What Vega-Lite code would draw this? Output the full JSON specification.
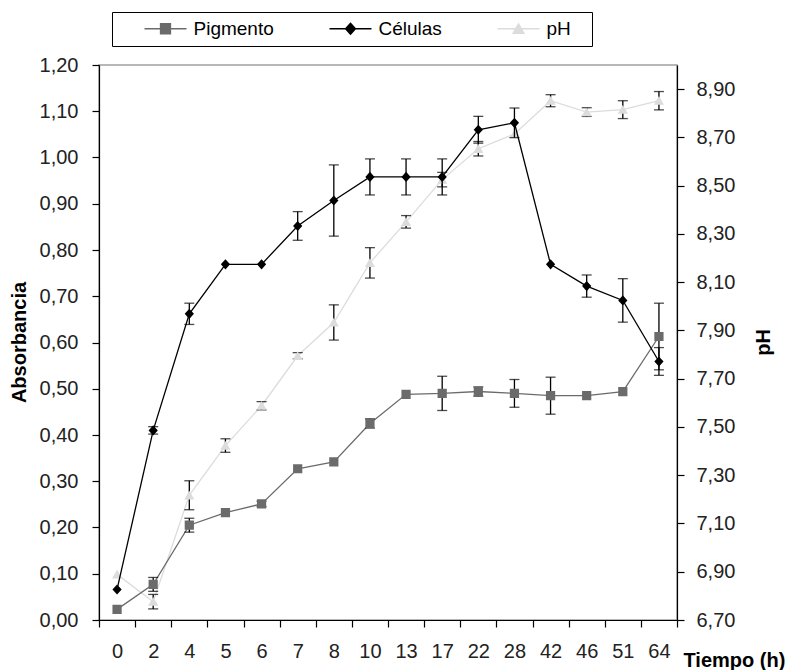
{
  "$schema": "https://vega.github.io/schema/vega-lite/v6.json",
  "width": 578,
  "height": 555,
  "autosize": "none",
  "padding": {"left": 99, "top": 65, "right": 115, "bottom": 50},
  "background": "white",
  "config": {
    "font": "Liberation Sans",
    "view": {"stroke": "#a0a0a0", "strokeWidth": 1.5},
    "axis": {
      "grid": false,
      "domainColor": "black",
      "tickColor": "black",
      "domainWidth": 1.2,
      "tickWidth": 1.2,
      "labelColor": "#222222",
      "labelFont": "Liberation Sans",
      "labelFontSize": 20,
      "titleFont": "Liberation Sans",
      "titleFontSize": 20,
      "titleFontWeight": "bold",
      "titleColor": "black"
    }
  },
  "data": {
    "values": [
      {"t": 0, "serie": "Pigmento", "v": 0.023, "e": 0},
      {"t": 2, "serie": "Pigmento", "v": 0.077, "e": 0.015},
      {"t": 4, "serie": "Pigmento", "v": 0.205, "e": 0.015},
      {"t": 5, "serie": "Pigmento", "v": 0.232, "e": 0},
      {"t": 6, "serie": "Pigmento", "v": 0.251, "e": 0.006},
      {"t": 7, "serie": "Pigmento", "v": 0.327, "e": 0},
      {"t": 8, "serie": "Pigmento", "v": 0.342, "e": 0},
      {"t": 10, "serie": "Pigmento", "v": 0.425, "e": 0.01},
      {"t": 13, "serie": "Pigmento", "v": 0.488, "e": 0},
      {"t": 17, "serie": "Pigmento", "v": 0.49, "e": 0.037},
      {"t": 22, "serie": "Pigmento", "v": 0.494, "e": 0.01},
      {"t": 28, "serie": "Pigmento", "v": 0.49, "e": 0.03},
      {"t": 42, "serie": "Pigmento", "v": 0.485, "e": 0.04},
      {"t": 46, "serie": "Pigmento", "v": 0.485, "e": 0},
      {"t": 51, "serie": "Pigmento", "v": 0.494, "e": 0},
      {"t": 64, "serie": "Pigmento", "v": 0.613, "e": 0.072},
      {"t": 0, "serie": "Células", "v": 0.066, "e": 0},
      {"t": 2, "serie": "Células", "v": 0.41, "e": 0.008},
      {"t": 4, "serie": "Células", "v": 0.662, "e": 0.023},
      {"t": 5, "serie": "Células", "v": 0.769, "e": 0},
      {"t": 6, "serie": "Células", "v": 0.769, "e": 0},
      {"t": 7, "serie": "Células", "v": 0.852, "e": 0.031},
      {"t": 8, "serie": "Células", "v": 0.907, "e": 0.077},
      {"t": 10, "serie": "Células", "v": 0.958, "e": 0.039},
      {"t": 13, "serie": "Células", "v": 0.958, "e": 0.039},
      {"t": 17, "serie": "Células", "v": 0.958, "e": 0.039},
      {"t": 22, "serie": "Células", "v": 1.06, "e": 0.029},
      {"t": 28, "serie": "Células", "v": 1.075, "e": 0.032},
      {"t": 42, "serie": "Células", "v": 0.769, "e": 0},
      {"t": 46, "serie": "Células", "v": 0.722, "e": 0.024},
      {"t": 51, "serie": "Células", "v": 0.691, "e": 0.047},
      {"t": 64, "serie": "Células", "v": 0.559, "e": 0.03},
      {"t": 0, "serie": "pH", "v": 6.889, "e": 0},
      {"t": 2, "serie": "pH", "v": 6.776, "e": 0.03},
      {"t": 4, "serie": "pH", "v": 7.217, "e": 0.06},
      {"t": 5, "serie": "pH", "v": 7.423, "e": 0.028},
      {"t": 6, "serie": "pH", "v": 7.588, "e": 0.017},
      {"t": 7, "serie": "pH", "v": 7.795, "e": 0.013},
      {"t": 8, "serie": "pH", "v": 7.933, "e": 0.073},
      {"t": 10, "serie": "pH", "v": 8.18, "e": 0.063},
      {"t": 13, "serie": "pH", "v": 8.35, "e": 0.026},
      {"t": 17, "serie": "pH", "v": 8.525, "e": 0.03},
      {"t": 22, "serie": "pH", "v": 8.653, "e": 0.03},
      {"t": 28, "serie": "pH", "v": 8.714, "e": 0},
      {"t": 42, "serie": "pH", "v": 8.852, "e": 0.025},
      {"t": 46, "serie": "pH", "v": 8.805, "e": 0.018},
      {"t": 51, "serie": "pH", "v": 8.815, "e": 0.037},
      {"t": 64, "serie": "pH", "v": 8.852, "e": 0.038}
    ]
  },
  "encoding": {
    "x": {
      "field": "t",
      "type": "ordinal",
      "scale": {"type": "band", "paddingInner": 0, "paddingOuter": 0},
      "axis": {
        "title": "Tiempo (h)",
        "labelAngle": 0,
        "tickBand": "extent",
        "tickSize": 7,
        "labelPadding": 14,
        "titleX": 584,
        "titleY": 46,
        "titleAlign": "left",
        "titleAnchor": "start",
        "titleBaseline": "alphabetic",
        "titleFontSize": 20
      }
    }
  },
  "layer": [
    {
      "transform": [{"filter": "datum.serie == 'pH'"}],
      "encoding": {
        "y": {
          "field": "v",
          "type": "quantitative",
          "scale": {"domain": [6.7, 9.0], "nice": false, "zero": false},
          "axis": {
            "orient": "right",
            "title": "pH",
            "values": [6.7, 6.9, 7.1, 7.3, 7.5, 7.7, 7.9, 8.1, 8.3, 8.5, 8.7, 8.9],
            "labelExpr": "replace(format(datum.value, '.2f'), '.', ',')",
            "tickSize": 7,
            "labelPadding": 12,
            "titleAngle": 270,
            "titleX": 86,
            "titleY": 277,
            "titleAlign": "center",
            "titleBaseline": "middle"
          }
        }
      },
      "layer": [
        {
          "mark": {"type": "line", "strokeWidth": 1.3},
          "encoding": {
            "color": {"field": "serie", "type": "nominal", "scale": {"domain": ["Pigmento", "Células", "pH"], "range": ["#6b6b6b", "#000000", "#dcdcdc"]}}
          }
        },
        {
          "transform": [{"filter": "datum.e > 0"}],
          "mark": {"type": "errorbar", "ticks": true, "size": 10, "thickness": 1.3, "color": "black"},
          "encoding": {"yError": {"field": "e"}}
        },
        {
          "mark": {"type": "point", "filled": true, "opacity": 1, "size": 85, "strokeWidth": 0},
          "encoding": {
            "color": {"field": "serie", "type": "nominal", "scale": {"domain": ["Pigmento", "Células", "pH"], "range": ["#6b6b6b", "#000000", "#dcdcdc"]}},
            "stroke": {"field": "serie", "type": "nominal", "scale": {"domain": ["Pigmento", "Células", "pH"], "range": ["#6b6b6b", "#000000", "#dcdcdc"]}},
            "shape": {"field": "serie", "type": "nominal", "scale": {"domain": ["Pigmento", "Células", "pH"], "range": ["M-4.2,0H4.2M-1,-1H1V1H-1Z", "M-4.2,0H4.2M0,-1.1L1,0L0,1.1L-1,0Z", "M-4.2,0H4.2M0,-1L1.1,0.9H-1.1Z"]}}
          }
        }
      ]
    },
    {
      "transform": [{"filter": "datum.serie != 'pH'"}],
      "encoding": {
        "y": {
          "field": "v",
          "type": "quantitative",
          "scale": {"domain": [0, 1.2], "nice": false},
          "axis": {
            "orient": "left",
            "title": "Absorbancia",
            "values": [0, 0.1, 0.2, 0.3, 0.4, 0.5, 0.6, 0.7, 0.8, 0.9, 1.0, 1.1, 1.2],
            "labelExpr": "replace(format(datum.value, '.2f'), '.', ',')",
            "tickSize": 7,
            "labelPadding": 14,
            "titleAngle": 270,
            "titleX": -80,
            "titleY": 277,
            "titleAlign": "center",
            "titleBaseline": "middle"
          }
        }
      },
      "layer": [
        {
          "mark": {"type": "line", "strokeWidth": 1.3},
          "encoding": {
            "color": {"field": "serie", "type": "nominal", "scale": {"domain": ["Pigmento", "Células", "pH"], "range": ["#6b6b6b", "#000000", "#dcdcdc"]}}
          }
        },
        {
          "transform": [{"filter": "datum.e > 0"}],
          "mark": {"type": "errorbar", "ticks": true, "size": 10, "thickness": 1.3, "color": "black"},
          "encoding": {"yError": {"field": "e"}}
        },
        {
          "mark": {"type": "point", "filled": true, "opacity": 1, "size": 85, "strokeWidth": 0},
          "encoding": {
            "color": {
              "field": "serie", "type": "nominal",
              "scale": {"domain": ["Pigmento", "Células", "pH"], "range": ["#6b6b6b", "#000000", "#dcdcdc"]},
              "legend": {
                "orient": "none",
                "legendX": 13,
                "legendY": -53,
                "direction": "horizontal",
                "columns": 3,
                "title": "\u00a0",
                "titleOrient": "left",
                "titleFontSize": 19,
                "titlePadding": 37,
                "strokeColor": "black",
                "fillColor": "white",
                "padding": 7,
                "columnPadding": 52,
                "labelFont": "Liberation Sans",
                "labelFontSize": 19,
                "labelColor": "black",
                "labelOffset": 18.5,
                "symbolSize": 100,
                "symbolStrokeWidth": 1.3,
                "labelExpr": "datum.label == 'pH' ? 'pH\u2800' : datum.label"
              }
            },
            "stroke": {"field": "serie", "type": "nominal", "scale": {"domain": ["Pigmento", "Células", "pH"], "range": ["#6b6b6b", "#000000", "#dcdcdc"]}},
            "shape": {
              "field": "serie", "type": "nominal",
              "scale": {"domain": ["Pigmento", "Células", "pH"], "range": ["M-4.2,0H4.2M-1,-1H1V1H-1Z", "M-4.2,0H4.2M0,-1.1L1,0L0,1.1L-1,0Z", "M-4.2,0H4.2M0,-1L1.1,0.9H-1.1Z"]}
            }
          }
        }
      ]
    }
  ],
  "resolve": {"scale": {"y": "independent"}}
}
